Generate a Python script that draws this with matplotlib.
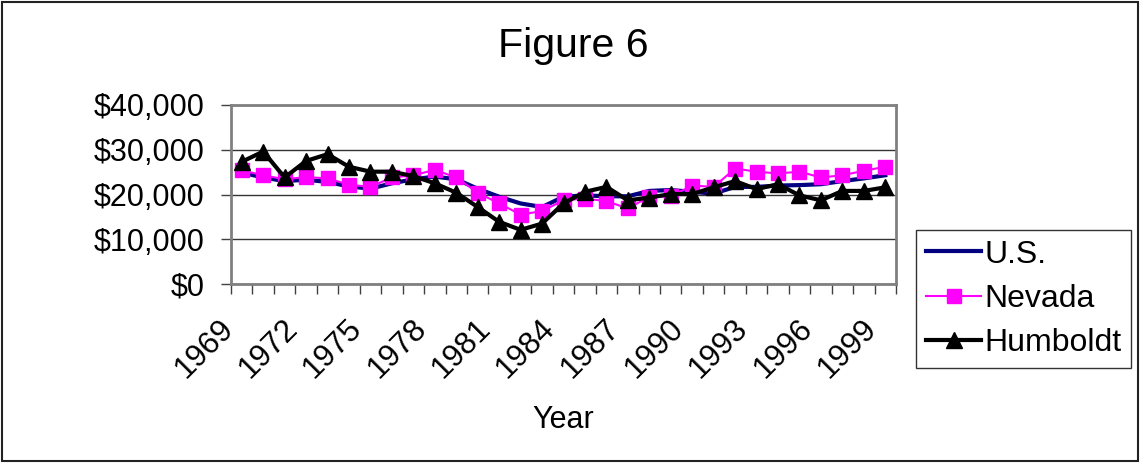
import matplotlib
matplotlib.use("Agg")
import matplotlib.pyplot as plt
import numpy as np
from matplotlib.patches import Rectangle
from matplotlib.ticker import FuncFormatter, NullFormatter
from matplotlib.transforms import ScaledTranslation, blended_transform_factory

years = list(range(1969, 2000))
us = [24900, 23800, 23000, 23300, 22800, 21800, 21300, 22500, 23400, 24000,
      23400, 21300, 19500, 18000, 17200, 19500, 19800, 19600, 19600, 20800,
      21000, 20600, 20200, 21700, 21700, 22000, 22100, 22300, 23000, 23600, 24300]
nevada = [25400, 24300, 23400, 23900, 23600, 22200, 21700, 23800, 24300, 25500,
          23800, 20400, 18000, 15500, 16300, 18700, 19100, 18500, 16900, 19500,
          19600, 22000, 21700, 25800, 25100, 24700, 25100, 23800, 24300, 25300, 26200]
humboldt = [27300, 29600, 23800, 27500, 29000, 26200, 25100, 25100, 24100, 22500,
            20400, 17200, 13900, 12100, 13500, 18000, 20600, 21700, 18700, 19300,
            20100, 20100, 21600, 23000, 21200, 22300, 19800, 18700, 20800, 20800, 21600]
label_years = years[::3]

plt.rcParams['font.family'] = ['Liberation Sans', 'DejaVu Sans']

fig = plt.figure(figsize=(11.4, 4.63), dpi=100)
ax = fig.add_axes([231/1140, 1-284/463, (896-231)/1140, (284-105)/463])

x = np.arange(len(years))
ax.plot(x, us, color='#000080', lw=3, label='U.S.', zorder=3)
ax.plot(x, nevada, color='#FF00FF', lw=1.5, marker='s', markersize=10,
        markeredgecolor='#FF00FF', label='Nevada', zorder=4)
ax.plot(x, humboldt, color='black', lw=3, marker='^', markersize=11,
        label='Humboldt', zorder=5)

ax.set_yticks([0, 10000, 20000, 30000, 40000])
ax.yaxis.set_major_formatter(FuncFormatter(lambda v, p: '${:,.0f}'.format(v)))
ax.grid(axis='y', color='#333333', lw=1)
ax.set_axisbelow(True)

ax.set_xticks(np.arange(len(years) + 1) - 0.5)
ax.xaxis.set_major_formatter(NullFormatter())
ax.set_xlim(-0.5, len(years) - 0.5)
ax.set_ylim(0, 40000)
ax.tick_params(axis='x', which='major', length=7.2, width=1, color='#404040', direction='out')
ax.tick_params(axis='y', length=7.2, width=1, color='#404040', labelsize=22, pad=12)

# rotated category labels, anchored just left of and below each category centre
lab_tr = blended_transform_factory(ax.transData, ax.transAxes) + \
    ScaledTranslation(-13/100, -40/100, fig.dpi_scale_trans)
for y in label_years:
    ax.text(years.index(y), 0, str(y), transform=lab_tr, rotation=45,
            ha='right', va='center', rotation_mode='anchor', fontsize=22.5,
            clip_on=False)

for s in ax.spines.values():
    s.set_color('#808080')
    s.set_linewidth(2)

fig.text(563/1140, 1-420/463, 'Year', fontsize=22, ha='center', va='center')
fig.text(0.503, 1-46/463, 'Figure 6', fontsize=29.5, ha='center', va='center')

leg = ax.legend(loc='upper left', bbox_to_anchor=(916/1140, 1-230/463),
                bbox_transform=fig.transFigure, fontsize=23, frameon=True,
                fancybox=False, edgecolor='black', handlelength=1.75,
                handletextpad=0.1, labelspacing=0.45, borderpad=0.3,
                borderaxespad=0)
leg.get_frame().set_linewidth(1)

fig.patches.append(Rectangle((2/1140, 2/463), 1-4/1140, 1-4/463,
                             transform=fig.transFigure, fill=False,
                             edgecolor='#222222', lw=1.5))

fig.savefig('out.png', dpi=100)
